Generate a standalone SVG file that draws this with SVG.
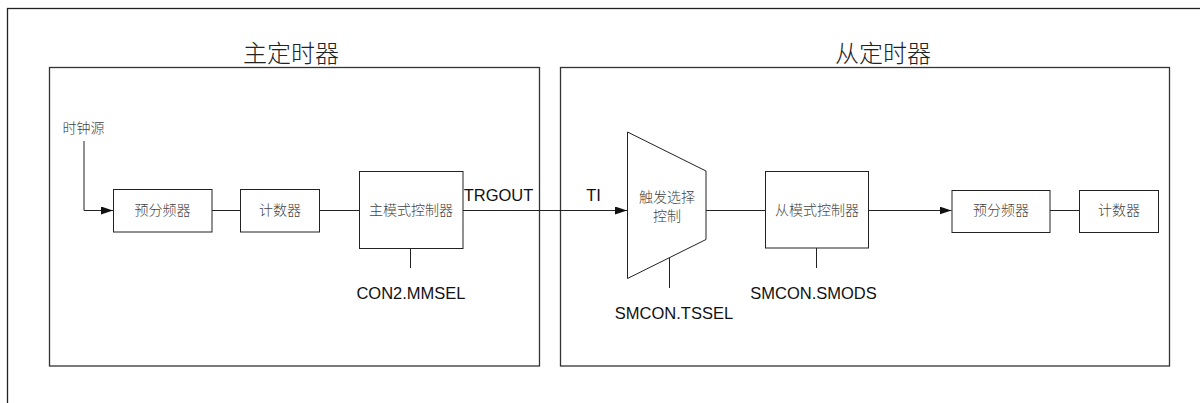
<svg xmlns="http://www.w3.org/2000/svg" width="1200" height="403" viewBox="0 0 1200 403">
<defs>
<style>
.frame{fill:none;stroke:#222;stroke-width:1.3}
.grp{fill:none;stroke:#333;stroke-width:1.3}
.box{fill:#fff;stroke:#222;stroke-width:1}
.ln{fill:none;stroke:#222;stroke-width:1}
.cn{font-family:"Noto Sans CJK SC","Noto Sans CJK JP",sans-serif;font-size:14px;fill:#444;text-anchor:middle;font-weight:300}
.title{font-family:"Noto Sans CJK SC","Noto Sans CJK JP",sans-serif;font-size:24px;fill:#222;text-anchor:middle;font-weight:300}
.en{font-family:"Liberation Sans",Arial,sans-serif;font-size:16.5px;fill:#111;text-anchor:middle}
</style>
<marker id="arr" viewBox="0 0 12 8" refX="12" refY="4" markerWidth="12" markerHeight="8" markerUnits="userSpaceOnUse" orient="auto">
<path d="M0,0 L12,4 L0,8 Z" fill="#111"/>
</marker>
</defs>
<rect width="1200" height="403" fill="#fff"/>
<rect id="outer" class="frame" x="7.5" y="8.5" width="1300" height="500"/>
<g id="master">
<rect class="grp" x="49.5" y="67.5" width="490" height="298.5"/>
<text class="title" x="291" y="62">主定时器</text>
</g>
<g id="slave">
<rect class="grp" x="560.5" y="67.5" width="609" height="298.5"/>
<text class="title" x="883" y="62">从定时器</text>
</g>
<g id="clk"><text class="cn" x="83.5" y="133">时钟源</text></g>
<g id="pre1"><rect class="box" x="113.5" y="189.5" width="98.5" height="42.5"/><text class="cn" x="162.5" y="215">预分频器</text></g>
<g id="cnt1"><rect class="box" x="240.5" y="189.5" width="79" height="42.5"/><text class="cn" x="280" y="215">计数器</text></g>
<g id="mmc"><rect class="box" x="359.5" y="171.5" width="103.5" height="77"/><text class="cn" x="411" y="215">主模式控制器</text></g>
<g id="mux"><polygon class="box" points="627.5,132 706,171 706,239.5 627.5,278.5"/><text class="cn" x="667" y="202">触发选择</text><text class="cn" x="667" y="220.5">控制</text></g>
<g id="smc"><rect class="box" x="765.5" y="171.5" width="103" height="76.5"/><text class="cn" x="817" y="215">从模式控制器</text></g>
<g id="pre2"><rect class="box" x="952" y="190.5" width="98" height="42"/><text class="cn" x="1001" y="215">预分频器</text></g>
<g id="cnt2"><rect class="box" x="1079.5" y="190.5" width="79" height="42"/><text class="cn" x="1119" y="215">计数器</text></g>
<g id="labels">
<text class="en" x="411" y="299">CON2.MMSEL</text>
<text class="en" x="498.5" y="201">TRGOUT</text>
<text class="en" x="593.5" y="201">TI</text>
<text class="en" x="674" y="319">SMCON.TSSEL</text>
<text class="en" x="813.5" y="298.5">SMCON.SMODS</text>
</g>
<g id="connectors">
<path class="ln" d="M84,141 V210.5 H113" marker-end="url(#arr)"/>
<path class="ln" d="M212,210.5 H240.5"/>
<path class="ln" d="M319.5,210.5 H359.5"/>
<path class="ln" d="M463,210.5 H627" marker-end="url(#arr)"/>
<path class="ln" d="M706,210.5 H765.5"/>
<path class="ln" d="M868.5,210.5 H951.5" marker-end="url(#arr)"/>
<path class="ln" d="M1050,210.5 H1079.5"/>
<path class="ln" d="M410.5,248.5 V268"/>
<path class="ln" d="M669.5,258 V288"/>
<path class="ln" d="M816.5,248 V268"/>
</g>
</svg>
